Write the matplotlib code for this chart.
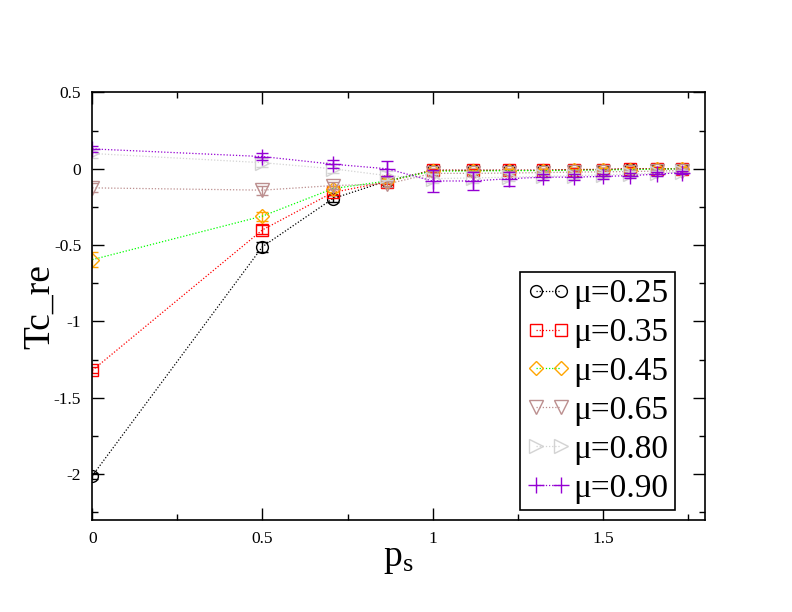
import numpy as np
import matplotlib
matplotlib.use('Agg')
import matplotlib.pyplot as plt
from matplotlib.ticker import MultipleLocator

plt.rcParams['font.family'] = ['Liberation Serif', 'DejaVu Serif']
plt.rcParams['mathtext.fontset'] = 'custom'
plt.rcParams['mathtext.rm'] = 'Liberation Serif'
plt.rcParams['mathtext.it'] = 'Liberation Serif:italic'

# p_s values
ps = [0.0, 0.5, 0.707, 0.866, 1.0, 1.118, 1.225, 1.323, 1.414, 1.5, 1.581, 1.658, 1.732]

# Tc_re for each mu
tc_025 = [-2.01, -0.51, -0.195, -0.08, -0.01, -0.01, -0.01, -0.01, -0.005, -0.005, 0.0, 0.0, 0.0]
tc_035 = [-1.32, -0.40, -0.155, -0.085, -0.01, -0.01, -0.01, -0.01, -0.005, -0.005, 0.0, 0.0, 0.0]
tc_045 = [-0.595, -0.31, -0.13, -0.08, -0.015, -0.015, -0.012, -0.012, -0.01, -0.008, -0.005, -0.003, 0.0]
tc_065 = [-0.125, -0.14, -0.11, -0.10, -0.03, -0.03, -0.028, -0.025, -0.022, -0.02, -0.018, -0.015, -0.012]
tc_080 = [0.10, 0.04, 0.0, -0.045, -0.065, -0.06, -0.055, -0.05, -0.045, -0.04, -0.035, -0.03, -0.02]
tc_090 = [0.13, 0.08, 0.03, 0.0, -0.08, -0.08, -0.065, -0.055, -0.055, -0.05, -0.045, -0.035, -0.025]

err_025 = [0.02, 0.033, 0.02, 0.015, 0.01, 0.01, 0.01, 0.01, 0.01, 0.01, 0.01, 0.01, 0.01]
err_035 = [0.02, 0.03, 0.02, 0.015, 0.01, 0.01, 0.01, 0.01, 0.01, 0.01, 0.01, 0.01, 0.01]
err_045 = [0.05, 0.03, 0.02, 0.015, 0.01, 0.01, 0.01, 0.01, 0.01, 0.01, 0.01, 0.01, 0.01]
err_065 = [0.03, 0.03, 0.025, 0.02, 0.015, 0.015, 0.015, 0.012, 0.012, 0.012, 0.01, 0.01, 0.01]
err_080 = [0.03, 0.03, 0.03, 0.03, 0.03, 0.03, 0.025, 0.025, 0.02, 0.02, 0.02, 0.015, 0.015]
err_090 = [0.02, 0.025, 0.025, 0.05, 0.07, 0.06, 0.045, 0.02, 0.02, 0.015, 0.015, 0.012, 0.01]

labels = ['μ=0.25', 'μ=0.35', 'μ=0.45', 'μ=0.65', 'μ=0.80', 'μ=0.90']

series = [
    (tc_025, err_025, 'o', 'black', 'black'),
    (tc_035, err_035, 's', 'red', 'red'),
    (tc_045, err_045, 'D', '#00ff00', '#ffa500'),
    (tc_065, err_065, 'v', '#bc8f8f', '#bc8f8f'),
    (tc_080, err_080, '>', '#d3d3d3', '#d3d3d3'),
    (tc_090, err_090, '+', '#9400d3', '#9400d3'),
]
msizes = {'o': 8.5, 's': 8.5, 'D': 7, 'v': 9.5, '>': 9.5, '+': 12}

fig = plt.figure(figsize=(7.92, 6.12), dpi=100)
ax = fig.add_axes([0.1166, 0.1503, 0.7734, 0.6987])

for (y, e, m, lc, mc), lab in zip(series, labels):
    ax.errorbar(ps, y, yerr=e, fmt='none', ecolor=mc, elinewidth=1,
                capsize=4.5, capthick=1)
    ax.plot(ps, y, linestyle=(0, (1, 1.5)), linewidth=0.9, color=lc,
            marker=m, markersize=msizes[m], markerfacecolor='none',
            markeredgecolor=mc, markeredgewidth=1, label=lab)

ax.set_xlim(0, 1.8)
ax.set_ylim(-2.3, 0.5)
ax.xaxis.set_major_locator(MultipleLocator(0.5))
ax.xaxis.set_minor_locator(MultipleLocator(0.25))
ax.yaxis.set_major_locator(MultipleLocator(0.5))
ax.yaxis.set_minor_locator(MultipleLocator(0.25))
ax.xaxis.set_major_formatter(plt.FuncFormatter(lambda v, p: '%g' % v))
ax.yaxis.set_major_formatter(plt.FuncFormatter(lambda v, p: ('%g' % v) if abs(v) > 1e-9 else '0'))
ax.tick_params(which='both', direction='in', top=True, right=True, labelsize=12.5, width=1)
ax.tick_params(which='major', length=8.5, pad=8)
ax.tick_params(which='minor', length=4.5)
for sp in ax.spines.values():
    sp.set_linewidth(1.2)

ax.set_xlabel(r'p$_\mathrm{s}$', fontsize=27, labelpad=-4)
ax.set_ylabel('Tc_re', fontsize=27)
ax.yaxis.set_label_coords(-0.057, 0.5, transform=ax.transAxes)

leg = ax.legend(loc='lower right', bbox_to_anchor=(0.951, 0.023), borderaxespad=0,
                fontsize=24, numpoints=2, handlelength=1.35, handletextpad=0.05,
                borderpad=0.2, labelspacing=0.25, fancybox=False, framealpha=1)
leg.get_frame().set_edgecolor('black')
leg.get_frame().set_linewidth(1.2)

fig.savefig('out.png', dpi=100)
